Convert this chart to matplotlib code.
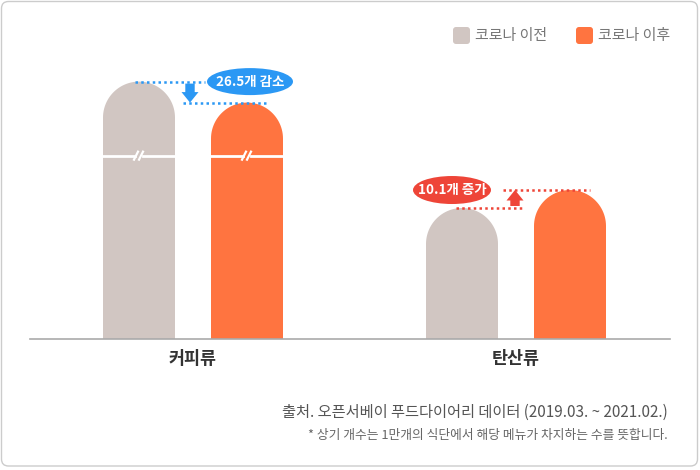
import numpy as np
import matplotlib.pyplot as plt
from matplotlib.patches import PathPatch, Ellipse, FancyBboxPatch, Polygon
from matplotlib.path import Path
from matplotlib.transforms import IdentityTransform

plt.rcParams['font.family'] = ['Noto Sans CJK KR', 'DejaVu Sans']

categories = ['커피류', '탄산류']
series_names = ['코로나 이전', '코로나 이후']
before = [196.5, 73.6]
after = [170.0, 83.7]
changes = ['26.5개 감소', '10.1개 증가']
source = '출처. 오픈서베이 푸드다이어리 데이터 (2019.03. ~ 2021.02.)'
note = '* 상기 개수는 1만개의 식단에서 해당 메뉴가 차지하는 수를 뜻합니다.'

# broken axis: values above BRK are squeezed
BRK = 103.0
SQ = 0.445

def fwd(v):
    v = np.asarray(v, float)
    return np.where(v <= BRK, v, BRK + (v - BRK) * SQ)

def inv(v):
    v = np.asarray(v, float)
    return np.where(v <= BRK, v, BRK + (v - BRK) / SQ)

W, H = 700, 470
c_before = '#D1C6C2'
c_after = '#FF7440'
blue = '#2B98F4'
red = '#EE4538'
ID = IdentityTransform()

fig = plt.figure(figsize=(7, 4.7), dpi=100)
ax = fig.add_axes([30/W, 131/H, 640/W, 299/H])
ax.set_yscale('function', functions=(fwd, inv))
ax.set_xlim(-163/323, 477/323)
ax.set_ylim(0, float(inv(299/1.78)))
for s in ['top', 'left', 'right']:
    ax.spines[s].set_visible(False)
ax.spines['bottom'].set_color('#aaaaaa')
ax.spines['bottom'].set_linewidth(1.2)
ax.set_yticks([])
ax.set_xticks([0, 1], categories, fontsize=12.5, fontweight='bold', color='#333333')
ax.tick_params(axis='x', length=0, pad=8)

bw = 72/323
off = 54/323

def dome_bar(xc, v, color):
    x0, y0 = ax.transData.transform((xc - bw/2, 0))
    x1, y1 = ax.transData.transform((xc + bw/2, v))
    r = (x1 - x0) / 2
    t = np.linspace(0, np.pi, 50)
    xs = np.concatenate([[x1, x1], (x0 + x1)/2 + r*np.cos(t), [x0, x0]])
    ys = np.concatenate([[y0, y1 - r], y1 - r + r*np.sin(t), [y1 - r, y0]])
    ax.add_patch(PathPatch(Path(np.column_stack([xs, ys])), fc=color, ec='none',
                           transform=ID, clip_on=False))
    if v > BRK:
        bx0, by = ax.transData.transform((xc - bw/2, BRK))
        bx1, _ = ax.transData.transform((xc + bw/2, BRK))
        cx = (bx0 + bx1) / 2
        ax.plot([bx0, cx - 4], [by, by], color='white', lw=2, transform=ID, clip_on=False)
        ax.plot([cx + 4, bx1], [by, by], color='white', lw=2, transform=ID, clip_on=False)
        for dx in (-3, 2):
            ax.plot([cx + dx - 2, cx + dx + 2], [by - 4, by + 4], color='white', lw=1.6,
                    transform=ID, clip_on=False)

for i in range(len(categories)):
    dome_bar(i - off, before[i], c_before)
    dome_bar(i + off, after[i], c_after)

def dots(x0, x1, y, color):
    ax.plot([x0, x1], [y, y], color=color, lw=1.8, linestyle=(0, (1, 1.3)), clip_on=False)

def arrow(x, y_from, y_to, color):
    px, pa = ax.transData.transform((x, y_from))
    _, pb = ax.transData.transform((x, y_to))
    d = np.sign(pb - pa)
    pa = pa + d * 2
    hl, hw, sw = 10.5, 8.5, 4.7
    hb = pb - d * hl
    pts = [(px - sw, pa), (px + sw, pa), (px + sw, hb), (px + hw, hb), (px, pb),
           (px - hw, hb), (px - sw, hb)]
    ax.add_patch(Polygon(pts, closed=True, fc=color, ec='none', transform=ID, clip_on=False))

def bubble(x, y, text, color, w, h):
    px, py = ax.transData.transform((x, y))
    ax.add_patch(Ellipse((px, py), w, h, fc=color, ec='none', transform=ID, clip_on=False))
    ax.text(x, y, text, ha='center', va='center', color='white', fontsize=9.7,
            fontweight='bold')

p = 1/323
# coffee: decrease
hi, lo = before[0], after[0]
dots(-58*p, 12*p, hi, blue)
dots(-10*p, 75*p, lo, blue)
arrow(-3*p, hi, lo, blue)
bubble(57*p, hi, changes[0], blue, 86, 27)

# soda: increase
hi, lo = after[1], before[1]
dots(1 - 13*p, 1 + 74*p, hi, red)
dots(1 - 60*p, 1 + 9*p, lo, red)
arrow(1 - 1*p, lo, hi, red)
bubble(1 - 64*p, hi, changes[1], red, 78, 28)

# legend
for x, name, c in [(453, series_names[0], c_before), (576, series_names[1], c_after)]:
    fig.add_artist(FancyBboxPatch((x, H - 44), 17, 17, boxstyle='round,pad=0,rounding_size=3',
                                  fc=c, ec='none', transform=ID))
    fig.text((x + 22)/W, 1 - 36/H, name, ha='left', va='center', fontsize=10.8, color='#777777')

fig.text(668/W, 1 - 412/H, source, ha='right', va='center', fontsize=11, color='#555555')
fig.text(668/W, 1 - 435/H, note, ha='right', va='center', fontsize=9.2, color='#666666')

fig.add_artist(FancyBboxPatch((1.5, 4), 696, 464.5, boxstyle='round,pad=0,rounding_size=7',
                              fc='none', ec='#cccccc', lw=1, transform=ID))

fig.savefig('out.png', dpi=100)
